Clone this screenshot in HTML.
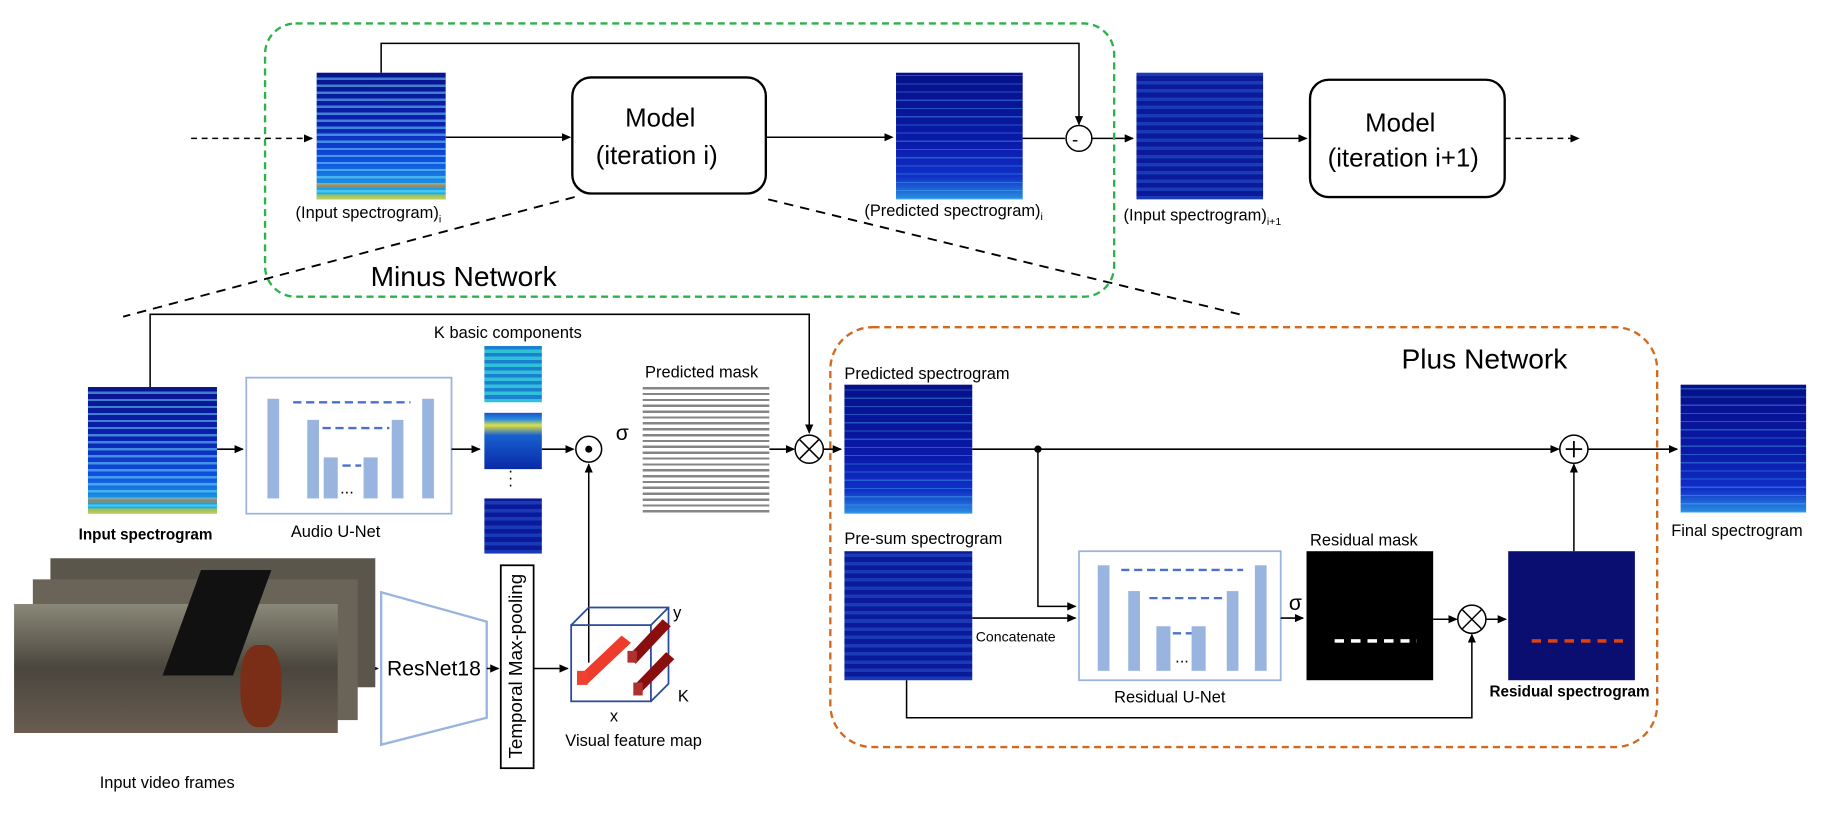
<!DOCTYPE html>
<html><head><meta charset="utf-8"><style>
html,body{margin:0;padding:0;background:#fff;overflow:hidden}
#w{width:1839px;height:824px;position:relative;overflow:hidden}
#c{width:1568px;height:703px;position:absolute;left:0;top:0;transform:scale(1.1728);transform-origin:0 0;font-family:"Liberation Sans",sans-serif}
.sp{position:absolute;background:
repeating-linear-gradient(0deg,rgba(90,200,255,.35) 0 1px,transparent 1px 7px),
linear-gradient(0deg,#2a8fe0 0%,#1030c8 18%,#0a1aa8 45%,#06108a 100%)}
.sp.hot{background:
linear-gradient(0deg,rgba(255,200,0,.6) 0 4%,transparent 4% 9%,rgba(255,120,0,.5) 9% 12%,transparent 12%),
repeating-linear-gradient(0deg,rgba(120,230,255,.5) 0 2px,transparent 2px 6px),
linear-gradient(0deg,#20c0e0 0%,#1050e0 30%,#0a20b0 60%,#08148e 100%)}
.sp.k1{background:repeating-linear-gradient(0deg,#30c0d8 0 3px,#1a80d0 3px 6px)}
.sp.k2{background:linear-gradient(0deg,#0a2aa8 0%,#1860d0 60%,#e0e040 78%,#2a90e0 88%,#1a50c8 100%)}
.sp.k3{background:repeating-linear-gradient(0deg,#1a3ab8 0 3px,#0a1a98 3px 7px)}
.t{position:absolute;white-space:nowrap;color:#000}
</style></head><body><div id="w"><div id="c">
<svg width="1568" height="703" style="position:absolute;left:0;top:0">
<defs><marker id="a" markerWidth="8" markerHeight="8" refX="7" refY="4" orient="auto" markerUnits="userSpaceOnUse"><path d="M0,0.5 L8,4 L0,7.5z" fill="#000"/></marker></defs>
<g stroke="#000" stroke-width="1.3" fill="none">
<line x1="163" y1="118" x2="266" y2="118" stroke-dasharray="5,4" marker-end="url(#a)"/>
<line x1="380" y1="117" x2="486" y2="117" marker-end="url(#a)"/>
<rect x="488" y="66" width="165" height="99" rx="16" stroke-width="2"/>
<line x1="653" y1="117" x2="761" y2="117" marker-end="url(#a)"/>
<line x1="872" y1="118" x2="908" y2="118"/>
<circle cx="920" cy="118" r="11"/>
<polyline points="325,62 325,37 920,37 920,106" marker-end="url(#a)"/>
<line x1="931" y1="118" x2="966" y2="118" marker-end="url(#a)"/>
<line x1="1077" y1="118" x2="1114" y2="118" marker-end="url(#a)"/>
<rect x="1117" y="68" width="166" height="100" rx="16" stroke-width="2"/>
<line x1="1283" y1="118" x2="1346" y2="118" stroke-dasharray="5,4" marker-end="url(#a)"/>
<rect x="226" y="20" width="724" height="233" rx="26" stroke="#2bb24c" stroke-width="2" stroke-dasharray="6,4"/>
<line x1="490" y1="168" x2="105" y2="270" stroke-dasharray="8,6" stroke-width="1.6"/>
<line x1="655" y1="170" x2="1057" y2="268" stroke-dasharray="8,6" stroke-width="1.6"/>
<polyline points="128,330 128,268 690,268 690,369" marker-end="url(#a)"/>
<line x1="185" y1="383" x2="207" y2="383" marker-end="url(#a)"/>
<rect x="210" y="322" width="175" height="116" stroke="#9ab4e0" stroke-width="1.5"/>
<line x1="385" y1="383" x2="409" y2="383" marker-end="url(#a)"/>
<line x1="462" y1="383" x2="489" y2="383" marker-end="url(#a)"/>
<circle cx="502" cy="383" r="11"/>
<line x1="502" y1="565" x2="502" y2="396" marker-end="url(#a)"/>
<line x1="656" y1="383" x2="677" y2="383" marker-end="url(#a)"/>
<circle cx="690" cy="383" r="12"/>
<line x1="702" y1="383" x2="717" y2="383" marker-end="url(#a)"/>
<rect x="708" y="279" width="705" height="358" rx="36" stroke="#d2691e" stroke-width="2" stroke-dasharray="6,4"/>
<line x1="829" y1="383" x2="1329" y2="383" marker-end="url(#a)"/>
<circle cx="885" cy="383" r="2.5" fill="#000"/>
<circle cx="1342" cy="383" r="12"/>
<line x1="1354" y1="383" x2="1430" y2="383" marker-end="url(#a)"/>
<polyline points="885,383 885,517 917,517" marker-end="url(#a)"/>
<line x1="829" y1="527" x2="917" y2="527" marker-end="url(#a)"/>
<polyline points="773,580 773,612 1255,612 1255,541" marker-end="url(#a)"/>
<rect x="920" y="470" width="172" height="110" stroke="#9ab4e0" stroke-width="1.5"/>
<line x1="1092" y1="527" x2="1111" y2="527" marker-end="url(#a)"/>
<line x1="1222" y1="528" x2="1242" y2="528" marker-end="url(#a)"/>
<circle cx="1255" cy="528" r="12"/>
<line x1="1267" y1="528" x2="1284" y2="528" marker-end="url(#a)"/>
<line x1="1342" y1="470" x2="1342" y2="396" marker-end="url(#a)"/>
<line x1="288" y1="570" x2="322" y2="570" marker-end="url(#a)"/>
<polygon points="325,505 415,530 415,612 325,635" stroke="#9ab4e0" stroke-width="2"/>
<line x1="415" y1="570" x2="425" y2="570" marker-end="url(#a)"/>
<rect x="427" y="482" width="28" height="173" stroke-width="1.5"/>
<line x1="455" y1="570" x2="484" y2="570" marker-end="url(#a)"/>
<g stroke="#2a4a9a" stroke-width="1.5"><rect x="487" y="533" width="68" height="65"/><polyline points="487,533 502,518 570,518 570,583 555,598"/><line x1="555" y1="533" x2="570" y2="518"/></g>
</g>
<g fill="#000" font-family="Liberation Sans" font-size="18">
<text x="914" y="124" font-size="16">-</text>
<path d="M682,375 L698,391 M698,375 L682,391" stroke="#000" stroke-width="1.3"/>
<path d="M1247,520 L1263,536 M1263,520 L1247,536" stroke="#000" stroke-width="1.3"/>
<path d="M1342,376 L1342,390 M1335,383 L1349,383" stroke="#000" stroke-width="1.5"/>
<circle cx="502" cy="383" r="3"/>
</g>
<g fill="#9ab4e0">
<rect x="228" y="340" width="10" height="85"/><rect x="262" y="358" width="10" height="67"/><rect x="276" y="390" width="12" height="35"/><rect x="310" y="390" width="12" height="35"/><rect x="334" y="358" width="10" height="67"/><rect x="360" y="340" width="10" height="85"/>
<rect x="936" y="482" width="10" height="90"/><rect x="962" y="504" width="10" height="68"/><rect x="986" y="534" width="12" height="38"/><rect x="1016" y="534" width="12" height="38"/><rect x="1046" y="504" width="10" height="68"/><rect x="1070" y="482" width="10" height="90"/>
</g>
<g stroke="#4a70d0" stroke-width="2" stroke-dasharray="7,4">
<line x1="250" y1="343" x2="350" y2="343"/><line x1="275" y1="365" x2="332" y2="365"/><line x1="292" y1="397" x2="308" y2="397"/>
<line x1="956" y1="486" x2="1060" y2="486"/><line x1="980" y1="510" x2="1042" y2="510"/><line x1="1000" y1="540" x2="1016" y2="540"/>
</g>
<g>
<polygon points="492,578 530,542 538,548 500,584" fill="#ee3b2b"/><rect x="492" y="572" width="9" height="12" fill="#f04030"/>
<polygon points="535,560 565,528 572,534 542,566" fill="#8a0e0e"/><rect x="535" y="555" width="8" height="10" fill="#b03030"/>
<polygon points="540,585 568,556 575,562 546,591" fill="#8a0e0e"/><rect x="540" y="582" width="8" height="11" fill="#b03030"/>
</g>
</svg>
<div class="sp hot" style="left:270px;top:62px;width:110px;height:108px"></div>
<div class="sp" style="left:764px;top:62px;width:108px;height:108px"></div>
<div class="sp k3" style="left:969px;top:62px;width:108px;height:108px"></div>
<div class="sp hot" style="left:75px;top:330px;width:110px;height:108px"></div>
<div class="sp k1" style="left:413px;top:295px;width:49px;height:48px"></div>
<div class="sp k2" style="left:413px;top:352px;width:49px;height:48px"></div>
<div class="sp k3" style="left:413px;top:425px;width:49px;height:47px"></div>
<div class="t" style="left:433px;top:398px;font-size:14px;line-height:6px">·<br>·<br>·</div>
<div style="position:absolute;left:548px;top:327px;width:108px;height:110px;background:repeating-linear-gradient(0deg,#222 0 2px,#fff 2px 5px),#fff;opacity:.55"></div>
<div class="sp" style="left:720px;top:328px;width:109px;height:110px"></div>
<div class="sp k3" style="left:720px;top:470px;width:109px;height:110px"></div>
<div style="position:absolute;left:1114px;top:470px;width:108px;height:110px;background:#000"></div>
<div style="position:absolute;left:1138px;top:545px;width:70px;height:3px;background:repeating-linear-gradient(90deg,#fff 0 8px,transparent 8px 14px)"></div>
<div style="position:absolute;left:1286px;top:470px;width:108px;height:110px;background:#0a0e70"></div>
<div style="position:absolute;left:1306px;top:545px;width:78px;height:3px;background:repeating-linear-gradient(90deg,#e04010 0 8px,transparent 8px 14px)"></div>
<div class="sp" style="left:1433px;top:328px;width:107px;height:109px"></div>
<div style="position:absolute;left:43px;top:476px;width:277px;height:110px;background:#5a564c"></div>
<div style="position:absolute;left:28px;top:494px;width:277px;height:120px;background:#6a6458"></div>
<div style="position:absolute;left:12px;top:515px;width:276px;height:110px;background:linear-gradient(180deg,#8a8878 0%,#4a463e 50%,#6a5c50 100%)"></div>
<div style="position:absolute;left:155px;top:486px;width:60px;height:90px;background:#111;transform:skewX(-20deg)"></div>
<div style="position:absolute;left:205px;top:550px;width:35px;height:70px;background:#7a2e18;border-radius:40%"></div>
<div class="t" style="left:533px;top:88px;font-size:22px">Model</div>
<div class="t" style="left:508px;top:120px;font-size:22px">(iteration i)</div>
<div class="t" style="left:1164px;top:92px;font-size:22px">Model</div>
<div class="t" style="left:1132px;top:122px;font-size:22px">(iteration i+1)</div>
<div class="t" style="left:252px;top:173px;font-size:14px">(Input spectrogram)<sub style="font-size:9px">i</sub></div>
<div class="t" style="left:737px;top:171px;font-size:14px">(Predicted spectrogram)<sub style="font-size:9px">i</sub></div>
<div class="t" style="left:958px;top:175px;font-size:14px">(Input spectrogram)<sub style="font-size:9px">i+1</sub></div>
<div class="t" style="left:316px;top:223px;font-size:24px">Minus Network</div>
<div class="t" style="left:1195px;top:293px;font-size:24px">Plus Network</div>
<div class="t" style="left:370px;top:275px;font-size:14px">K basic components</div>
<div class="t" style="left:550px;top:309px;font-size:14px">Predicted mask</div>
<div class="t" style="left:525px;top:359px;font-size:18px">σ</div>
<div class="t" style="left:1099px;top:504px;font-size:18px">σ</div>
<div class="t" style="left:67px;top:448px;font-size:13px;font-weight:bold">Input spectrogram</div>
<div class="t" style="left:248px;top:445px;font-size:14px">Audio U-Net</div>
<div class="t" style="left:290px;top:408px;font-size:14px">...</div>
<div class="t" style="left:1002px;top:552px;font-size:14px">...</div>
<div class="t" style="left:720px;top:310px;font-size:14px">Predicted spectrogram</div>
<div class="t" style="left:720px;top:451px;font-size:14px">Pre-sum spectrogram</div>
<div class="t" style="left:832px;top:536px;font-size:12px">Concatenate</div>
<div class="t" style="left:950px;top:586px;font-size:14px">Residual U-Net</div>
<div class="t" style="left:1117px;top:452px;font-size:14px">Residual mask</div>
<div class="t" style="left:1270px;top:582px;font-size:13px;font-weight:bold">Residual spectrogram</div>
<div class="t" style="left:1425px;top:444px;font-size:14px">Final spectrogram</div>
<div class="t" style="left:85px;top:659px;font-size:14px">Input video frames</div>
<div class="t" style="left:330px;top:560px;font-size:18px">ResNet18</div>
<div class="t" style="left:441px;top:568px;font-size:16px;transform:translate(-50%,-50%) rotate(-90deg);transform-origin:center">Temporal Max-pooling</div>
<div class="t" style="left:574px;top:514px;font-size:14px">y</div>
<div class="t" style="left:578px;top:585px;font-size:14px">K</div>
<div class="t" style="left:520px;top:602px;font-size:14px">x</div>
<div class="t" style="left:482px;top:623px;font-size:14px">Visual feature map</div>
</div></div></body></html>
